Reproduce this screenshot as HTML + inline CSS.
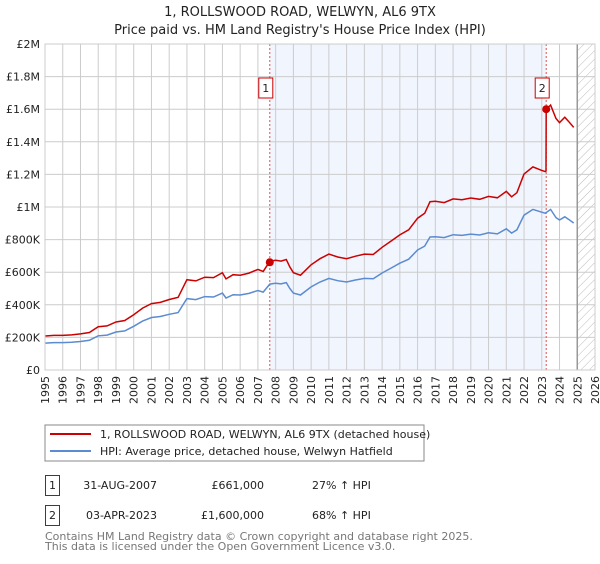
<!DOCTYPE html>
<html><head><meta charset="utf-8"><style>
body{margin:0;background:#fff;font-family:"DejaVu Sans","Liberation Sans",sans-serif;}
svg text{font-family:"DejaVu Sans","Liberation Sans",sans-serif;}
</style></head><body>
<svg id="chart" width="600" height="560" xmlns="http://www.w3.org/2000/svg">
<defs><pattern id="hatch" width="6" height="6" patternUnits="userSpaceOnUse" patternTransform="rotate(45)"><line x1="0" y1="0" x2="0" y2="6" stroke="#bbb" stroke-width="1"/></pattern></defs>
<text x="300" y="16" text-anchor="middle" font-size="13" fill="#222">1, ROLLSWOOD ROAD, WELWYN, AL6 9TX</text>
<text x="300" y="34" text-anchor="middle" font-size="13" fill="#222">Price paid vs. HM Land Registry's House Price Index (HPI)</text>
<g id="plot"></g>
<g>
<rect x="45" y="425" width="379" height="36" fill="#fff" stroke="#888"/>
<line x1="50" y1="434" x2="91" y2="434" stroke="#cc0000" stroke-width="2"/>
<text x="100" y="438" font-size="11" fill="#222">1, ROLLSWOOD ROAD, WELWYN, AL6 9TX (detached house)</text>
<line x1="50" y1="451" x2="91" y2="451" stroke="#5b8bd0" stroke-width="2"/>
<text x="100" y="455" font-size="11" fill="#222">HPI: Average price, detached house, Welwyn Hatfield</text>
</g>
<g font-size="11" fill="#222">
<rect x="45.5" y="475.5" width="14" height="20" fill="none" stroke="#cc0000"/>
<text x="52.5" y="489" text-anchor="middle">1</text>
<text x="157" y="489" text-anchor="end">31-AUG-2007</text>
<text x="264" y="489" text-anchor="end">£661,000</text>
<text x="312" y="489">27% ↑ HPI</text>
<rect x="45.5" y="505.5" width="14" height="20" fill="none" stroke="#cc0000"/>
<text x="52.5" y="519" text-anchor="middle">2</text>
<text x="157" y="519" text-anchor="end">03-APR-2023</text>
<text x="264" y="519" text-anchor="end">£1,600,000</text>
<text x="312" y="519">68% ↑ HPI</text>
</g>
<text x="45" y="540" font-size="11" fill="#777">Contains HM Land Registry data © Crown copyright and database right 2025.</text>
<text x="45" y="550" font-size="11" fill="#777">This data is licensed under the Open Government Licence v3.0.</text>
</svg>
<script>
const hpiYears=[1995,1995.5,1996,1996.5,1997,1997.5,1998,1998.5,1999,1999.5,2000,2000.5,2001,2001.5,2002,2002.5,2003,2003.5,2004,2004.5,2005,2005.2,2005.6,2006,2006.5,2007,2007.3,2007.67,2008,2008.3,2008.6,2008.8,2009,2009.4,2010,2010.5,2011,2011.5,2012,2012.5,2013,2013.5,2014,2014.5,2015,2015.5,2016,2016.4,2016.7,2017,2017.5,2018,2018.5,2019,2019.5,2020,2020.5,2021,2021.3,2021.6,2022,2022.5,2023,2023.2,2023.5,2023.8,2024,2024.3,2024.5,2024.8];
const hpiValues=[165,168,168,170,175,182,210,214,233,240,268,300,322,328,342,352,438,432,450,448,472,442,462,460,470,488,478,527,532,528,536,500,472,460,510,540,562,548,540,552,562,560,595,625,655,680,736,760,816,818,812,830,826,834,828,842,835,866,840,860,950,985,968,962,985,935,920,940,925,902];
const saleYears=[2007.67,2023.25];
const salePrices=[661,1600];
const saleRatios=[1.265,1.65];
const yTicks=[0,200,400,600,800,1000,1200,1400,1600,1800,2000];
const yTickLabels=["£0","£200K","£400K","£600K","£800K","£1M","£1.2M","£1.4M","£1.6M","£1.8M","£2M"];
const xTicks=[1995,1996,1997,1998,1999,2000,2001,2002,2003,2004,2005,2006,2007,2008,2009,2010,2011,2012,2013,2014,2015,2016,2017,2018,2019,2020,2021,2022,2023,2024,2025,2026];

const X0=45,X1=595,Y0=370,Y1=44,ymin=1995,ymax=2026;
const xs=y=>X0+(y-ymin)/(ymax-ymin)*(X1-X0);
const ys=v=>Y0-v/2000*(Y0-Y1);
const NS="http://www.w3.org/2000/svg";
const g=document.getElementById('plot');
function mk(t,a){const e=document.createElementNS(NS,t);for(const k in a)e.setAttribute(k,a[k]);g.appendChild(e);return e;}

let e=mk('rect',{x:xs(saleYears[0]),y:Y1,width:xs(saleYears[1])-xs(saleYears[0]),height:Y0-Y1,fill:'#eef3fc',opacity:0.8});


e=mk('rect',{x:xs(2025),y:Y1,width:X1-xs(2025),height:Y0-Y1,fill:'url(#hatch)'});


xTicks.forEach((t,i)=>{
 e=mk('line',{x1:xs(t),x2:xs(t),y1:Y1,y2:Y0,stroke:'#ccc','stroke-width':1});
 
 
 e=mk('text',{x:0,y:0,'font-size':11,fill:'#222','text-anchor':'end',transform:`translate(${xs(t)+4},${Y0+6}) rotate(-90)`});
 e.textContent=t;
 
 
});
yTicks.forEach((t,i)=>{
 e=mk('line',{x1:X0,x2:X1,y1:ys(t),y2:ys(t),stroke:'#ccc','stroke-width':1});
 
 
 e=mk('text',{x:X0-5,y:ys(t)+4,'font-size':11,fill:'#222','text-anchor':'end'});
 e.textContent=yTickLabels[i];
 
 
});
e=mk('line',{x1:xs(2025),x2:xs(2025),y1:Y1,y2:Y0,stroke:'#999','stroke-width':1.5});


saleYears.forEach((s,i)=>{
 e=mk('line',{x1:xs(s),x2:xs(s),y1:Y1,y2:Y0,stroke:'#e05050','stroke-width':1,'stroke-dasharray':'2,2'});
 
 
 e=mk('rect',{x:xs(s)-11,y:78,width:14,height:20,fill:'#fff',stroke:'#cc0000'});
 
 
 e=mk('text',{x:xs(s)-4,y:92,'font-size':11,fill:'#222','text-anchor':'middle'});
 e.textContent=i+1;
 
 
});
// HPI line
let d=hpiYears.map((y,i)=>(i?'L':'M')+xs(y).toFixed(1)+','+ys(hpiValues[i]).toFixed(1)).join('');
e=mk('path',{d:d,fill:'none',stroke:'#5b8bd0','stroke-width':1.5});


// property line
let pts=[];
hpiYears.forEach((y,i)=>{
 if(y<saleYears[1]) pts.push([y,hpiValues[i]*saleRatios[0]]);
});
pts.push([saleYears[1]-0.01,1220]);
pts.push([saleYears[1],salePrices[1]]);
hpiYears.forEach((y,i)=>{ if(y>saleYears[1]) pts.push([y,hpiValues[i]*saleRatios[1]]); });
d=pts.map((p,i)=>(i?'L':'M')+xs(p[0]).toFixed(1)+','+ys(p[1]).toFixed(1)).join('');
e=mk('path',{d:d,fill:'none',stroke:'#cc0000','stroke-width':1.5});


saleYears.forEach((s,i)=>{
 e=mk('circle',{cx:xs(s),cy:ys(salePrices[i]),r:4,fill:'#cc0000'});
 
 
});
e=mk('rect',{x:X0,y:Y1,width:X1-X0,height:Y0-Y1,fill:'none',stroke:'#ccc'});


</script>
</body></html>
